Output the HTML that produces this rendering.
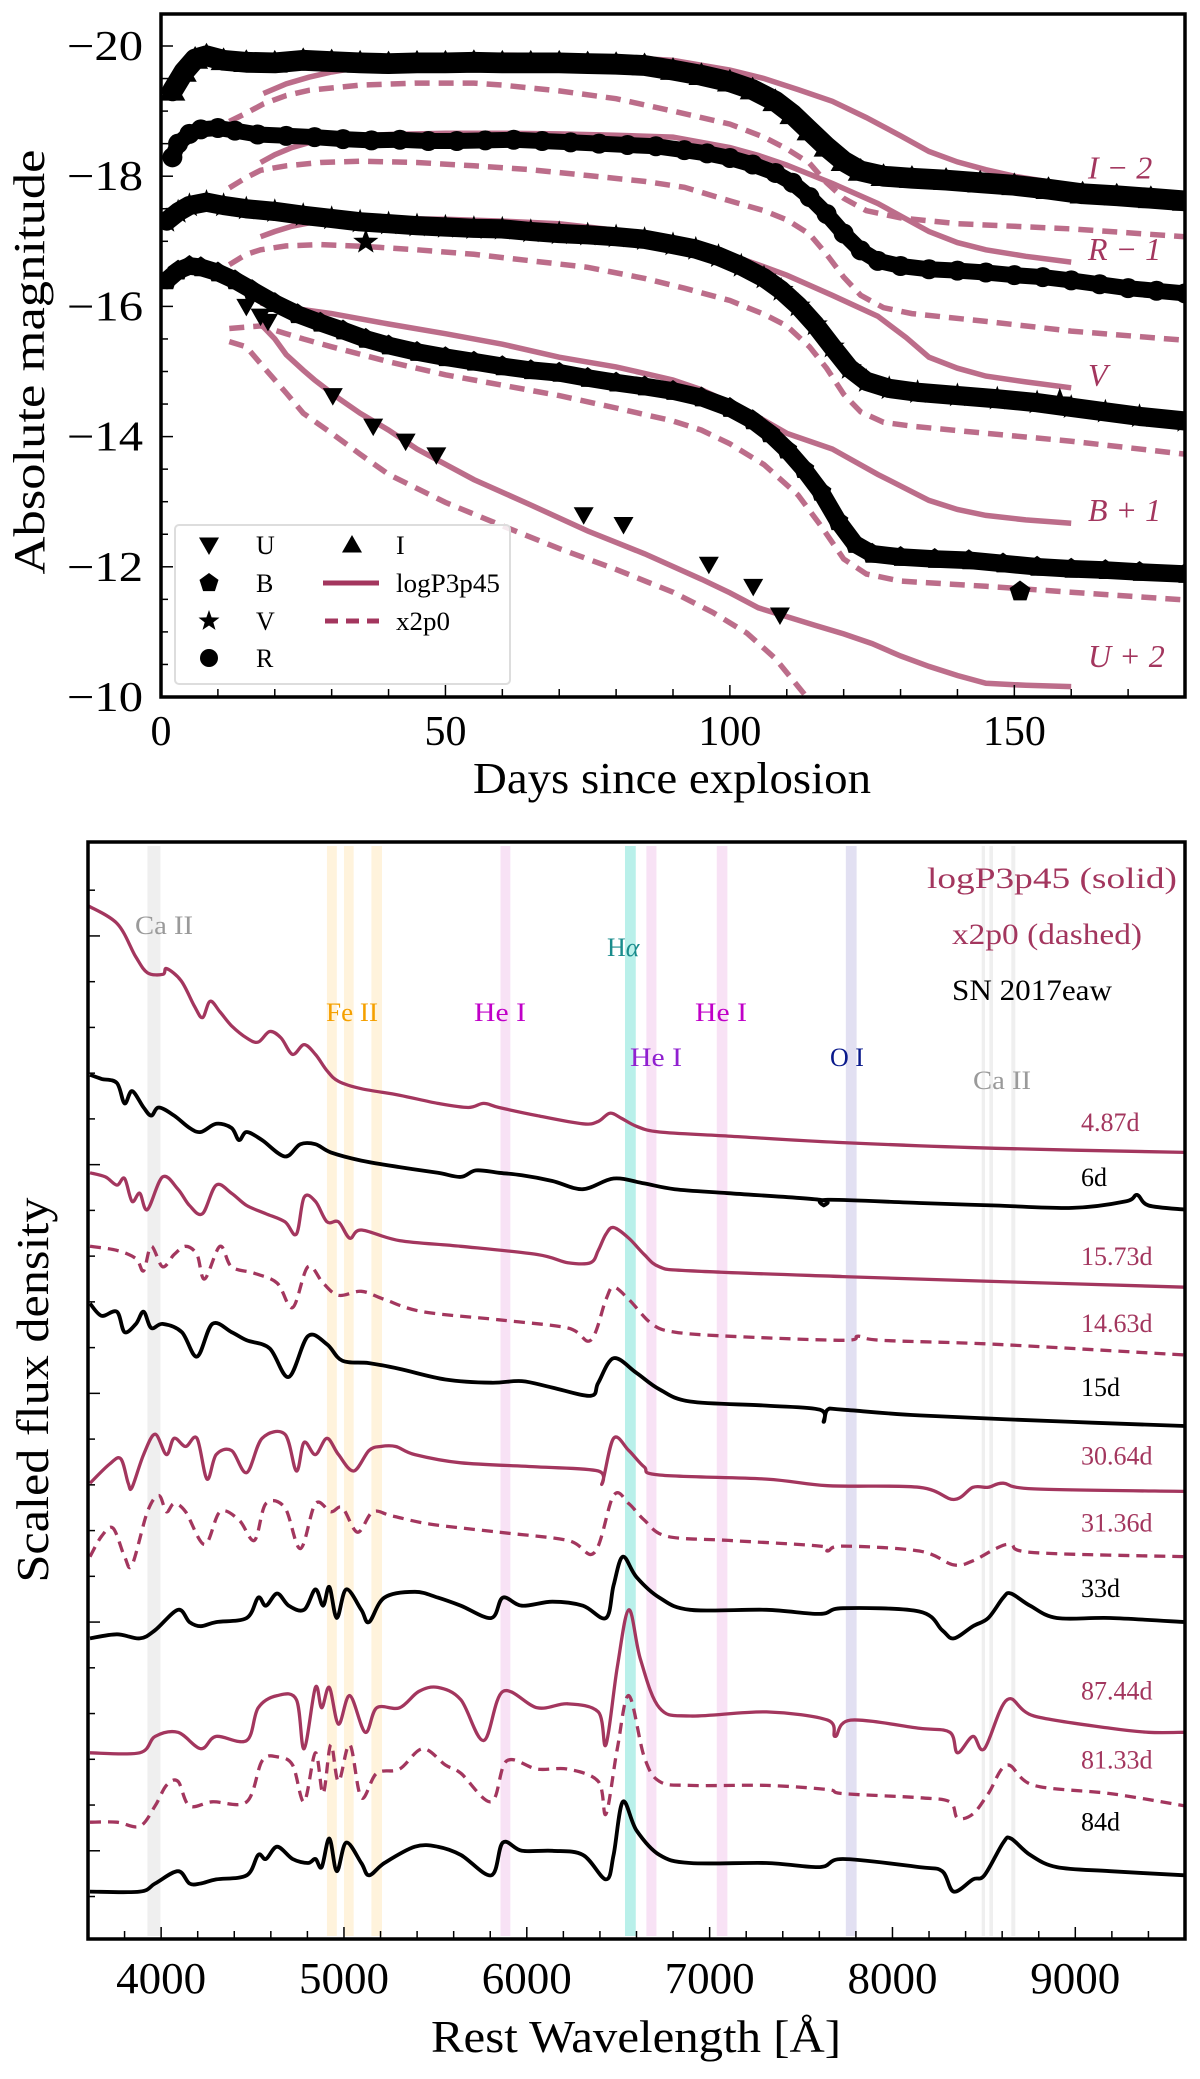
<!DOCTYPE html>
<html><head><meta charset="utf-8"><style>
html,body{margin:0;padding:0;background:#fff;}
svg{display:block;font-family:"Liberation Serif",serif;}
</style></head><body>
<svg id="fig" width="1200" height="2079" viewBox="0 0 1200 2079"></svg>
<script>
// ---------- TOP PANEL DATA (days, absolute magnitude) ----------
const obsI=[[2,-19.31],[4,-19.6],[6,-19.8],[8,-19.85],[11,-19.78],[15,-19.75],[20,-19.74],[25,-19.78],[30,-19.76],[35,-19.74],[40,-19.73],[45,-19.74],[50,-19.74],[55,-19.75],[60,-19.74],[65,-19.74],[70,-19.74],[75,-19.73],[80,-19.72],[85,-19.7],[90,-19.63],[95,-19.55],[100,-19.45],[104,-19.33],[108,-19.15],[111,-18.95],[114,-18.7],[117,-18.45],[120,-18.23],[123,-18.08],[127,-18.0],[132,-17.97],[138,-17.94],[144,-17.9],[150,-17.86],[156,-17.8],[162,-17.73],[168,-17.7],[174,-17.66],[180,-17.62]];
const obsR=[[2,-18.29],[3,-18.5],[5,-18.65],[7,-18.72],[10,-18.74],[13,-18.7],[17,-18.64],[22,-18.62],[27,-18.6],[32,-18.57],[37,-18.55],[42,-18.56],[47,-18.54],[52,-18.54],[57,-18.55],[62,-18.56],[67,-18.54],[72,-18.52],[77,-18.5],[82,-18.48],[87,-18.46],[92,-18.4],[96,-18.35],[100,-18.28],[104,-18.18],[108,-18.05],[111,-17.9],[114,-17.68],[117,-17.42],[120,-17.12],[123,-16.86],[126,-16.7],[130,-16.62],[135,-16.57],[140,-16.55],[145,-16.52],[150,-16.48],[155,-16.45],[160,-16.4],[165,-16.34],[170,-16.28],[175,-16.24],[180,-16.2]];
const obsV=[[1,-17.31],[3,-17.45],[5,-17.55],[8,-17.6],[11,-17.55],[15,-17.5],[20,-17.46],[25,-17.4],[30,-17.35],[35,-17.3],[40,-17.27],[45,-17.24],[50,-17.22],[55,-17.2],[60,-17.19],[65,-17.15],[70,-17.12],[75,-17.1],[80,-17.07],[85,-17.03],[90,-16.95],[94,-16.88],[98,-16.77],[102,-16.62],[106,-16.44],[109,-16.25],[112,-16.01],[115,-15.72],[118,-15.38],[121,-15.05],[124,-14.85],[128,-14.74],[133,-14.68],[140,-14.63],[147,-14.58],[154,-14.52],[160,-14.45],[166,-14.38],[172,-14.31],[180,-14.24]];
const obsVextra=[[36,-16.99],[158,-14.55]];
const obsB=[[1,-16.4],[3,-16.55],[5,-16.62],[7,-16.6],[10,-16.52],[13,-16.4],[16,-16.25],[20,-16.05],[24,-15.88],[28,-15.75],[32,-15.63],[36,-15.5],[40,-15.4],[45,-15.3],[50,-15.22],[55,-15.15],[60,-15.08],[65,-15.02],[70,-14.98],[75,-14.9],[80,-14.83],[85,-14.77],[90,-14.7],[95,-14.6],[100,-14.44],[104,-14.25],[107,-14.05],[110,-13.8],[113,-13.5],[116,-13.15],[119,-12.7],[122,-12.35],[125,-12.2],[130,-12.15],[136,-12.12],[142,-12.1],[148,-12.05],[154,-12.0],[160,-11.97],[166,-11.95],[172,-11.92],[180,-11.89]];
const obsBextra=[[151,-11.62]];
const obsU=[[15,-16.0],[17.5,-15.85],[18.8,-15.77],[30.2,-14.63],[37.3,-14.16],[43,-13.93],[48.4,-13.72],[74.3,-12.8],[81.3,-12.65],[96.3,-12.04],[104.1,-11.7],[108.8,-11.26]];
const modI_s=[[18,-19.27],[22,-19.42],[26,-19.52],[30,-19.6],[40,-19.75],[50,-19.83],[60,-19.86],[70,-19.85],[80,-19.83],[90,-19.78],[100,-19.63],[106,-19.5],[112,-19.33],[118,-19.15],[124,-18.9],[130,-18.62],[135,-18.38],[140,-18.22],[145,-18.1],[150,-18.0],[155,-17.93],[160,-17.86]];
const modI_d=[[12,-18.84],[15,-18.97],[18,-19.11],[22,-19.24],[26,-19.32],[35,-19.4],[45,-19.43],[55,-19.43],[60,-19.4],[70,-19.31],[80,-19.19],[90,-19.0],[100,-18.8],[106,-18.6],[110,-18.42],[114,-18.2],[117,-17.9],[120,-17.66],[124,-17.47],[130,-17.36],[140,-17.27],[160,-17.19],[180,-17.07]];
const modR_s=[[17.5,-18.21],[20,-18.33],[23,-18.44],[27,-18.54],[30,-18.6],[40,-18.64],[50,-18.66],[60,-18.66],[70,-18.65],[80,-18.63],[90,-18.6],[100,-18.44],[105,-18.32],[110,-18.17],[118,-17.89],[126,-17.58],[135,-17.15],[140,-16.98],[145,-16.87],[152,-16.77],[160,-16.68]];
const modR_d=[[12,-17.82],[15,-17.98],[17.5,-18.09],[22,-18.16],[28,-18.21],[35,-18.23],[45,-18.21],[55,-18.16],[65,-18.1],[75,-18.01],[85,-17.92],[92,-17.83],[100,-17.62],[106,-17.47],[110,-17.33],[114,-17.11],[117,-16.8],[120,-16.45],[123,-16.17],[127,-15.98],[132,-15.89],[145,-15.77],[160,-15.62],[180,-15.48]];
const modV_s=[[17.5,-17.07],[20,-17.15],[23,-17.23],[27,-17.3],[30,-17.34],[40,-17.35],[50,-17.34],[60,-17.31],[70,-17.27],[80,-17.17],[90,-17.03],[100,-16.79],[105,-16.64],[110,-16.48],[118,-16.17],[126,-15.85],[131,-15.52],[135,-15.22],[140,-15.05],[145,-14.93],[152,-14.84],[160,-14.75]];
const modV_d=[[12,-16.64],[15,-16.8],[17.5,-16.87],[22,-16.93],[28,-16.95],[36,-16.92],[45,-16.87],[55,-16.8],[65,-16.7],[75,-16.6],[85,-16.43],[92,-16.28],[100,-16.09],[106,-15.88],[110,-15.7],[114,-15.38],[117,-15.05],[120,-14.65],[123,-14.38],[127,-14.22],[132,-14.16],[145,-14.05],[160,-13.93],[180,-13.73]];
const modB_s=[[17.5,-16.05],[20,-16.01],[30,-15.89],[40,-15.73],[50,-15.58],[60,-15.42],[70,-15.22],[80,-15.07],[90,-14.87],[95,-14.72],[100,-14.52],[105,-14.3],[110,-14.05],[118,-13.81],[126,-13.42],[135,-13.02],[140,-12.88],[145,-12.79],[152,-12.72],[160,-12.67]];
const modB_d=[[12,-15.66],[17.5,-15.7],[22,-15.58],[25,-15.5],[30,-15.38],[40,-15.15],[50,-14.95],[60,-14.79],[70,-14.63],[80,-14.44],[90,-14.24],[95,-14.1],[100,-13.89],[106,-13.57],[112,-13.1],[116,-12.63],[120,-12.12],[124,-11.89],[130,-11.78],[145,-11.7],[160,-11.61],[180,-11.49]];
const modU_s=[[17.5,-15.73],[20,-15.5],[22,-15.26],[25,-15.02],[27,-14.87],[31,-14.6],[35,-14.36],[40,-14.1],[45,-13.81],[55,-13.34],[65,-12.95],[75,-12.55],[85,-12.2],[95,-11.81],[100,-11.6],[105,-11.37],[115,-11.1],[120,-10.97],[125,-10.82],[130,-10.63],[135,-10.47],[140,-10.33],[145,-10.21],[152,-10.18],[160,-10.16]];
const modU_d=[[12,-15.46],[15,-15.38],[18,-15.07],[22,-14.67],[25,-14.36],[30,-14.05],[35,-13.73],[40,-13.42],[50,-12.99],[60,-12.63],[70,-12.28],[80,-11.96],[90,-11.61],[97,-11.3],[103,-10.98],[108,-10.59],[112,-10.16],[113.5,-10.0]];
const yTicksTop=[-20,-18,-16,-14,-12,-10];
const xTicksTop=[0,50,100,150];
const bandLabels=[["I − 2",-18.13],["R − 1",-16.88],["V",-14.95],["B + 1",-12.87],["U + 2",-10.63]];

// ---------- BOTTOM PANEL DATA (wavelength Å, scaled flux) ----------
const s487=[[3600,12.65],[3760,12.43],[3860,12.03],[3925,11.83],[4010,11.81],[4030,11.88],[4110,11.73],[4180,11.43],[4226,11.28],[4268,11.48],[4322,11.35],[4385,11.18],[4468,11.03],[4531,10.98],[4594,11.11],[4656,11.03],[4719,10.83],[4782,10.95],[4844,10.83],[4907,10.63],[4970,10.5],[5095,10.41],[5304,10.33],[5513,10.23],[5680,10.18],[5764,10.23],[5848,10.18],[6057,10.08],[6307,9.98],[6391,10.01],[6454,10.11],[6516,10.05],[6600,9.95],[6725,9.88],[7102,9.83],[7729,9.75],[8565,9.68],[9600,9.63]];
const o6=[[3611,10.58],[3674,10.53],[3758,10.48],[3800,10.23],[3841,10.38],[3904,10.18],[3946,10.08],[3987,10.18],[4071,10.08],[4155,9.93],[4217,9.88],[4301,9.98],[4385,9.93],[4426,9.78],[4468,9.88],[4552,9.78],[4677,9.58],[4761,9.73],[4844,9.73],[4928,9.63],[5095,9.53],[5304,9.45],[5513,9.38],[5639,9.33],[5722,9.41],[5848,9.38],[5973,9.35],[6140,9.28],[6307,9.18],[6475,9.31],[6642,9.25],[6809,9.18],[7102,9.13],[7603,9.05],[7624,8.98],[7645,9.05],[8147,9.01],[8565,8.98],[8983,8.95],[9275,9.03],[9338,9.11],[9401,8.98],[9600,8.93]];
const s1573=[[3611,9.38],[3695,9.33],[3758,9.23],[3800,9.31],[3841,9.03],[3883,9.13],[3925,8.93],[4008,9.33],[4092,9.18],[4155,8.98],[4226,8.88],[4301,9.23],[4385,9.13],[4468,8.98],[4573,8.88],[4677,8.78],[4740,8.63],[4782,9.08],[4844,9.03],[4907,8.78],[4970,8.78],[5032,8.58],[5095,8.68],[5304,8.55],[5639,8.48],[6057,8.38],[6224,8.28],[6349,8.28],[6391,8.43],[6433,8.63],[6475,8.71],[6558,8.58],[6642,8.38],[6725,8.23],[6893,8.18],[7729,8.11],[8565,8.05],[9600,7.98]];
const d1463=[[3611,8.48],[3758,8.43],[3862,8.33],[3904,8.18],[3946,8.48],[4008,8.23],[4071,8.38],[4134,8.48],[4196,8.38],[4238,8.08],[4322,8.48],[4385,8.23],[4510,8.15],[4635,8.03],[4719,7.73],[4803,8.23],[4886,8.03],[4970,7.88],[5095,7.93],[5221,7.83],[5430,7.68],[5848,7.58],[6224,7.48],[6349,7.33],[6433,7.83],[6475,7.98],[6558,7.83],[6684,7.53],[6809,7.43],[7102,7.38],[7729,7.33],[7812,7.38],[7938,7.33],[8565,7.28],[9600,7.15]];
const o15=[[3611,7.78],[3674,7.63],[3758,7.68],[3800,7.43],[3862,7.53],[3904,7.68],[3946,7.48],[4008,7.53],[4113,7.43],[4196,7.13],[4280,7.53],[4385,7.43],[4468,7.33],[4594,7.23],[4698,6.88],[4803,7.38],[4907,7.28],[4991,7.08],[5137,7.05],[5304,6.98],[5555,6.85],[5806,6.81],[5973,6.83],[6140,6.75],[6349,6.65],[6391,6.81],[6475,7.11],[6600,6.93],[6725,6.73],[6893,6.58],[7311,6.53],[7603,6.48],[7624,6.33],[7645,6.48],[7729,6.48],[8147,6.41],[8983,6.33],[9600,6.28]];
const s3064=[[3611,5.58],[3716,5.81],[3779,5.88],[3820,5.58],[3841,5.53],[3904,5.93],[3967,6.18],[4029,5.93],[4071,6.13],[4134,6.03],[4196,6.13],[4251,5.63],[4301,5.93],[4385,5.98],[4468,5.71],[4552,6.13],[4677,6.18],[4740,5.73],[4782,6.08],[4844,5.93],[4907,6.13],[4970,5.93],[5053,5.73],[5137,5.98],[5200,6.03],[5283,6.03],[5388,5.93],[5639,5.83],[6057,5.78],[6391,5.73],[6412,5.58],[6475,6.13],[6558,5.98],[6642,5.78],[6725,5.68],[7311,5.63],[7645,5.55],[8147,5.53],[8335,5.38],[8440,5.53],[8524,5.53],[8606,5.58],[8774,5.51],[9600,5.48]];
const d3136=[[3611,4.68],[3674,4.93],[3737,5.03],[3800,4.68],[3841,4.58],[3925,5.23],[3987,5.43],[4029,5.23],[4071,5.33],[4134,5.23],[4238,4.83],[4322,5.23],[4426,5.13],[4510,4.88],[4573,5.33],[4677,5.28],[4761,4.78],[4844,5.33],[4928,5.23],[4991,5.28],[5074,4.98],[5158,5.23],[5262,5.18],[5471,5.08],[5848,4.98],[6224,4.88],[6370,4.73],[6475,5.43],[6558,5.33],[6642,5.13],[6767,4.93],[7102,4.88],[7603,4.81],[7645,4.75],[7729,4.81],[8147,4.75],[8335,4.58],[8440,4.63],[8565,4.78],[8648,4.83],[8774,4.73],[9600,4.68]];
const o33=[[3611,3.68],[3758,3.73],[3883,3.68],[3967,3.78],[4092,4.03],[4155,3.88],[4217,3.83],[4301,3.88],[4468,3.93],[4531,4.18],[4573,4.08],[4635,4.23],[4698,4.08],[4782,4.03],[4844,4.28],[4886,4.08],[4920,4.31],[4961,3.93],[5012,4.28],[5095,4.03],[5137,3.88],[5221,4.18],[5388,4.25],[5513,4.18],[5639,4.08],[5806,3.93],[5869,4.18],[5973,4.08],[6140,4.13],[6307,4.08],[6433,3.93],[6475,4.33],[6525,4.68],[6600,4.43],[6725,4.18],[6893,4.03],[7311,4.03],[7603,3.98],[7729,4.05],[8147,4.01],[8272,3.78],[8335,3.68],[8440,3.83],[8524,3.93],[8606,4.18],[8648,4.23],[8753,4.08],[8899,3.93],[9192,3.93],[9600,3.88]];
const s8744=[[3611,2.28],[3883,2.28],[3967,2.48],[4092,2.53],[4217,2.33],[4301,2.48],[4468,2.43],[4531,2.83],[4635,2.98],[4740,2.93],[4782,2.33],[4844,3.08],[4878,2.83],[4920,3.08],[4970,2.63],[5032,2.98],[5116,2.53],[5179,2.83],[5304,2.83],[5409,3.03],[5513,3.08],[5639,2.93],[5764,2.43],[5869,3.03],[6057,2.83],[6224,2.88],[6391,2.78],[6433,2.38],[6495,3.33],[6558,4.03],[6621,3.43],[6725,2.83],[6893,2.73],[7311,2.78],[7645,2.68],[7687,2.48],[7771,2.68],[8147,2.58],[8314,2.53],[8356,2.28],[8440,2.48],[8503,2.33],[8627,2.93],[8774,2.73],[9192,2.58],[9401,2.53],[9600,2.53]];
const d8133=[[3611,1.43],[3758,1.43],[3883,1.38],[3967,1.63],[4029,1.88],[4092,1.93],[4155,1.63],[4280,1.68],[4468,1.68],[4552,2.18],[4635,2.23],[4719,2.13],[4782,1.68],[4844,2.28],[4886,1.78],[4928,2.38],[4970,1.93],[5032,2.38],[5095,1.73],[5179,2.03],[5304,2.08],[5430,2.33],[5555,2.13],[5639,2.03],[5806,1.68],[5890,2.18],[6057,2.08],[6224,2.08],[6391,1.93],[6433,1.53],[6495,2.33],[6558,2.98],[6642,2.23],[6725,1.93],[6893,1.88],[7311,1.88],[7645,1.83],[7729,1.78],[8147,1.73],[8314,1.68],[8356,1.48],[8440,1.53],[8524,1.78],[8627,2.13],[8774,1.88],[9192,1.78],[9600,1.63]];
const o84=[[3611,0.58],[3883,0.58],[3967,0.68],[4092,0.83],[4155,0.68],[4217,0.68],[4301,0.73],[4468,0.78],[4531,1.03],[4573,0.98],[4635,1.13],[4719,0.98],[4803,0.93],[4844,0.98],[4878,0.88],[4920,1.23],[4961,0.83],[5012,1.18],[5095,0.93],[5137,0.78],[5221,0.93],[5388,1.13],[5513,1.13],[5639,1.03],[5806,0.78],[5869,1.18],[5973,1.08],[6140,1.08],[6307,1.03],[6433,0.73],[6475,1.03],[6525,1.68],[6600,1.33],[6725,1.03],[6893,0.93],[7311,0.93],[7603,0.88],[7729,0.98],[8147,0.88],[8272,0.83],[8335,0.58],[8440,0.73],[8503,0.78],[8606,1.18],[8648,1.23],[8753,1.03],[8899,0.88],[9192,0.83],[9600,0.78]];
const epochLabels=["4.87d","6d","15.73d","14.63d","15d","30.64d","31.36d","33d","87.44d","81.33d","84d"];
const epochFlux=[10.0,9.33,8.36,7.54,6.76,5.92,5.10,4.30,3.04,2.20,1.44];
const lineBands=[[3925,3996,"#efefef"],[4907,4961,"#fff3dc"],[5000,5053,"#fff3dc"],[5150,5208,"#fff3dc"],[5856,5910,"#f8e2f5"],[6537,6596,"#b9f0ea"],[6654,6709,"#f8e2f5"],[7039,7097,"#f8e2f5"],[7745,7804,"#e2e0f2"],[8488,8506,"#efefef"],[8530,8550,"#efefef"],[8650,8672,"#efefef"]];
const xTicksBot=[4000,5000,6000,7000,8000,9000];

// ---------- RENDER ----------
const NS="http://www.w3.org/2000/svg";
const svg=document.getElementById('fig');
function mk(tag,attrs,parent){const e=document.createElementNS(NS,tag);for(const k in attrs)e.setAttribute(k,attrs[k]);(parent||svg).appendChild(e);return e;}
const MAGENTA="#a3365e";

const tX=d=>161+d*(1185-161)/180;
const tY=m=>46+(m+20)*65.1;
const bX=l=>88+(l-3600)*(1185-88)/6000;
const bY=f=>1939-f*(1939-842)/13.43;

const gTop=mk('g',{});


const clipT=mk('clipPath',{id:'clipT'});mk('rect',{x:161,y:14,width:1024,height:683},clipT);
const clipB=mk('clipPath',{id:'clipB'});mk('rect',{x:88,y:842,width:1097,height:1097},clipB);

function lin(pts,fx,fy){return pts.map((p,i)=>(i?'L':'M')+fx(p[0]).toFixed(1)+' '+fy(p[1]).toFixed(1)).join(' ');}
function smooth(pts,fx,fy){const P=pts.map(p=>[fx(p[0]),fy(p[1])]);let d='M'+P[0][0].toFixed(1)+' '+P[0][1].toFixed(1);
 for(let i=0;i<P.length-1;i++){const p0=P[i-1]||P[i],p1=P[i],p2=P[i+1],p3=P[i+2]||p2;
  const c1=[p1[0]+(p2[0]-p0[0])/6,p1[1]+(p2[1]-p0[1])/6],c2=[p2[0]-(p3[0]-p1[0])/6,p2[1]-(p3[1]-p1[1])/6];
  d+=' C'+c1[0].toFixed(1)+' '+c1[1].toFixed(1)+' '+c2[0].toFixed(1)+' '+c2[1].toFixed(1)+' '+p2[0].toFixed(1)+' '+p2[1].toFixed(1);}return d;}
function txt(parent,t,attrs,len){const e=mk('text',attrs,parent);e.textContent=t;if(len){e.setAttribute('textLength',len);e.setAttribute('lengthAdjust','spacingAndGlyphs');}return e;}

const gModels=mk('g',{'clip-path':'url(#clipT)',opacity:0.72},gTop);
[[modI_s,0,'model-I-logP3p45'],[modI_d,1,'model-I-x2p0'],[modR_s,0,'model-R-logP3p45'],[modR_d,1,'model-R-x2p0'],[modV_s,0,'model-V-logP3p45'],[modV_d,1,'model-V-x2p0'],[modB_s,0,'model-B-logP3p45'],[modB_d,1,'model-B-x2p0'],[modU_s,0,'model-U-logP3p45'],[modU_d,1,'model-U-x2p0']].forEach(([d,dash,name])=>{
 const p=mk('path',{d:lin(d,tX,tY),fill:'none',stroke:MAGENTA,'stroke-width':5.5,'stroke-dasharray':dash?'15 9':'none'},gModels);
 
 
});

function marker(shape,x,y,s,parent){
 if(shape==='tri')return mk('polygon',{points:`${x},${y-s} ${x-s},${y+s*0.75} ${x+s},${y+s*0.75}`,fill:'#000'},parent);
 if(shape==='dtri')return mk('polygon',{points:`${x},${y+s} ${x-s},${y-s*0.75} ${x+s},${y-s*0.75}`,fill:'#000'},parent);
 if(shape==='circ')return mk('circle',{cx:x,cy:y,r:s,fill:'#000'},parent);
 if(shape==='pent'||shape==='star'){let pts=[];const n=shape==='pent'?5:10;for(let i=0;i<n;i++){const a=-Math.PI/2+i*2*Math.PI/n;const r=shape==='pent'?s:(i%2?s*0.45:s*1.1);pts.push((x+r*Math.cos(a)).toFixed(1)+','+(y+r*Math.sin(a)).toFixed(1));}return mk('polygon',{points:pts.join(' '),fill:'#000'},parent);}
}
const gObs=mk('g',{'clip-path':'url(#clipT)'},gTop);
[[obsI,'tri','I',13],[obsR,'circ','R',10],[obsV,'star','V',12],[obsB,'pent','B',11]].forEach(([d,sh,nm,w])=>{
 const g=mk('g',{},gObs);
 
 
 mk('path',{d:lin(d,tX,tY),fill:'none',stroke:'#000','stroke-width':w*1.6,'stroke-linejoin':'round','stroke-linecap':'round'},g);
 d.forEach(p=>marker(sh,tX(p[0]),tY(p[1]),w,g));
});
obsVextra.forEach(p=>marker('star',tX(p[0]),tY(p[1]),12,gObs));
obsBextra.forEach(p=>marker('pent',tX(p[0]),tY(p[1]),11,gObs));
const gU=mk('g',{},gObs);


obsU.forEach(p=>marker('dtri',tX(p[0]),tY(p[1]),10,gU));

bandLabels.forEach(([t,m])=>{const e=txt(gTop,t,{x:1088,y:tY(m)+11,'font-size':32,'font-style':'italic',fill:MAGENTA});
 
 });

const gLeg=mk('g',{},gTop);


mk('rect',{x:175,y:525,width:335,height:159,rx:4,fill:'#fff','fill-opacity':0.85,stroke:'#ddd','stroke-width':2},gLeg);
[['dtri','U',545],['pent','B',583],['star','V',621],['circ','R',658]].forEach(([sh,t,y])=>{marker(sh,209,y,sh==='circ'?9:10,gLeg);txt(gLeg,t,{x:256,y:y+9,'font-size':26});});
marker('tri',352,545,10,gLeg);txt(gLeg,'I',{x:396,y:554,'font-size':26});
mk('line',{x1:323,y1:583,x2:379,y2:583,stroke:MAGENTA,'stroke-width':5},gLeg);
mk('line',{x1:325,y1:621,x2:379,y2:621,stroke:MAGENTA,'stroke-width':5,'stroke-dasharray':'13 8'},gLeg);
txt(gLeg,'logP3p45',{x:396,y:592,'font-size':26},104);
txt(gLeg,'x2p0',{x:396,y:630,'font-size':26},54);

mk('rect',{x:161,y:14,width:1024,height:683,fill:'none',stroke:'#000','stroke-width':3.5},gTop);
for(let m=-20;m<=-10;m+=0.5){const y=tY(m);const major=Math.abs(m%2)<1e-6;mk('line',{x1:161,y1:y,x2:161+(major?12:7),y2:y,stroke:'#000','stroke-width':1.5},gTop);}
for(let d=10;d<180;d+=10){const x=tX(d);const major=d%50===0;mk('line',{x1:x,y1:697,x2:x,y2:697-(major?12:8),stroke:'#000','stroke-width':1.5},gTop);}
yTicksTop.forEach(m=>{const e=txt(gTop,'−'+Math.abs(m),{x:143,y:tY(m)+14,'font-size':42,'text-anchor':'end'},76);
 });
xTicksTop.forEach(d=>{const e=txt(gTop,String(d),{x:tX(d),y:745,'font-size':42,'text-anchor':'middle'});
 });
{const e=txt(gTop,'Days since explosion',{x:672,y:793,'font-size':44,'text-anchor':'middle'},398);}
{const e=txt(gTop,'Absolute magnitude',{x:0,y:0,'font-size':44,'text-anchor':'middle',transform:'translate(44,362) rotate(-90)'},425);}

const gBot=mk('g',{});


lineBands.forEach(([a,b,c])=>{const r=mk('rect',{x:bX(a),y:846,width:bX(b)-bX(a),height:1090,fill:c},gBot);
 });
const gSpec=mk('g',{'clip-path':'url(#clipB)'},gBot);
[[s487,MAGENTA,0,'spectrum-logP3p45-4.87d'],[o6,'#000',0,'spectrum-SN2017eaw-6d'],[s1573,MAGENTA,0,'spectrum-logP3p45-15.73d'],[d1463,MAGENTA,1,'spectrum-x2p0-14.63d'],[o15,'#000',0,'spectrum-SN2017eaw-15d'],[s3064,MAGENTA,0,'spectrum-logP3p45-30.64d'],[d3136,MAGENTA,1,'spectrum-x2p0-31.36d'],[o33,'#000',0,'spectrum-SN2017eaw-33d'],[s8744,MAGENTA,0,'spectrum-logP3p45-87.44d'],[d8133,MAGENTA,1,'spectrum-x2p0-81.33d'],[o84,'#000',0,'spectrum-SN2017eaw-84d']].forEach(([d,c,dash,name])=>{
 const p=mk('path',{d:smooth(d,bX,bY),fill:'none',stroke:c,'stroke-width':c==='#000'?3.8:3.3,'stroke-dasharray':dash?'11 7':'none','stroke-linejoin':'round'},gSpec);
 
 
});
epochLabels.forEach((t,i)=>{const col=(i===1||i===4||i===7||i===10)?'#000':MAGENTA;const e=txt(gBot,t,{x:1081,y:bY(epochFlux[i])+9,'font-size':26,fill:col});
 });
[["Ca II",135,934,"#9a9a9a",58],["Hα",607,956,"#1a8c8c",0],["Fe II",326,1021,"#f5a000",52],["He I",474,1021,"#c000c8",52],["He I",695,1021,"#c000c8",52],["He I",630,1066,"#9020d0",52],["O I",830,1066,"#0a1a8c",0],["Ca II",973,1089,"#9a9a9a",58]].forEach(([t,x,y,c,len])=>{
 const e=mk('text',{x:x,y:y,'font-size':26,fill:c},gBot);
 if(t==='Hα'){e.textContent='H';const ts=mk('tspan',{'font-style':'italic'},e);ts.textContent='α';}else{e.textContent=t;if(len){e.setAttribute('textLength',len);e.setAttribute('lengthAdjust','spacingAndGlyphs');}}
 });
[["logP3p45 (solid)",927,888,MAGENTA,250],["x2p0 (dashed)",952,944,MAGENTA,190],["SN 2017eaw",952,1000,'#000',160]].forEach(([t,x,y,c,len])=>{
 const e=txt(gBot,t,{x:x,y:y,'font-size':30,fill:c},len);
 });
mk('rect',{x:88,y:842,width:1097,height:1097,fill:'none',stroke:'#000','stroke-width':3.5},gBot);
for(let l=3800;l<9600;l+=200){const x=bX(l);const major=l%1000===0;mk('line',{x1:x,y1:1939,x2:x,y2:1939-(major?12:8),stroke:'#000','stroke-width':1.5},gBot);}
for(let k=-2;k<=22;k++){const f=1.08+k*0.56;const y=bY(f);if(y<846||y>1936)continue;const major=((k%5)+5)%5===0;mk('line',{x1:88,y1:y,x2:88+(major?12:7),y2:y,stroke:'#000','stroke-width':1.5},gBot);}
xTicksBot.forEach(l=>{const e=txt(gBot,String(l),{x:bX(l),y:1993,'font-size':44,'text-anchor':'middle'},90);
 });
{const e=txt(gBot,'Rest Wavelength [Å]',{x:636,y:2052,'font-size':46,'text-anchor':'middle'},410);}
{const e=txt(gBot,'Scaled flux density',{x:0,y:0,'font-size':46,'text-anchor':'middle',transform:'translate(48,1390) rotate(-90)'},385);}
</script>
</body></html>
